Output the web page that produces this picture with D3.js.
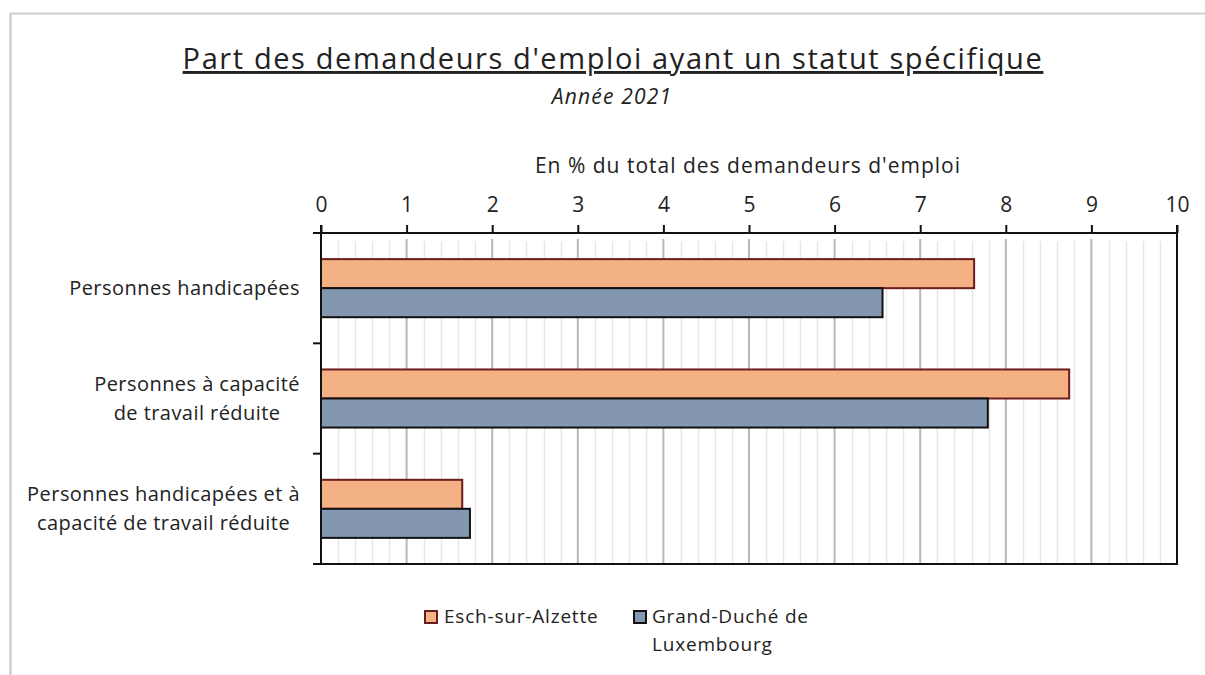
<!DOCTYPE html>
<html lang="fr">
<head>
<meta charset="utf-8">
<script src="https://d3js.org/d3.v7.min.js"></script>
<style>
  body { margin: 0; background: #fff; }
  svg text { font-family: "Open Sans", sans-serif; fill: #222; }
</style>
</head>
<body>
<div id="chart"></div>
<script>
// data
var categories = [
  ["Personnes handicapées"],
  ["Personnes à capacité", "de travail réduite"],
  ["Personnes handicapées et à", "capacité de travail réduite"]
];
var seriesNames = ["Esch-sur-Alzette", "Grand-Duché de Luxembourg"];
var eschValues = [7.63, 8.74, 1.65];
var luxValues = [6.56, 7.79, 1.74];
var tickValues = [0, 1, 2, 3, 4, 5, 6, 7, 8, 9, 10];

var width = 1205, height = 675;
var plotLeft = 321, plotRight = 1177, plotTop = 233, plotBottom = 564;
var fills = ["#f4b183", "#8497b0"];
var strokes = ["#6b1c1c", "#111111"];

var svg = d3.select("#chart").append("svg")
  .attr("width", width).attr("height", height);

// outer frame (top and left edges only visible)
svg.append("line").attr("x1", 10).attr("x2", width).attr("y1", 13.5).attr("y2", 13.5)
  .attr("stroke", "#cfcfcf").attr("stroke-width", 2);
svg.append("line").attr("x1", 10.5).attr("x2", 10.5).attr("y1", 13).attr("y2", height)
  .attr("stroke", "#cfcfcf").attr("stroke-width", 2.5);

// titles
svg.append("text")
  .attr("x", 613).attr("y", 69)
  .attr("text-anchor", "middle")
  .style("font-size", "29px")
  .style("letter-spacing", "1.6px")
  .style("text-decoration", "underline")
  .text("Part des demandeurs d'emploi ayant un statut spécifique");

svg.append("text")
  .attr("x", 612).attr("y", 104)
  .attr("text-anchor", "middle")
  .style("font-size", "21px")
  .style("letter-spacing", "1.2px")
  .style("font-style", "italic")
  .text("Année 2021");

svg.append("text")
  .attr("x", 748).attr("y", 173)
  .attr("text-anchor", "middle")
  .style("font-size", "21px")
  .style("letter-spacing", "1px")
  .text("En % du total des demandeurs d'emploi");

// scales
var x = d3.scaleLinear().domain([0, 10]).range([plotLeft, plotRight]);
var y = d3.scaleBand().domain(d3.range(categories.length)).range([plotTop, plotBottom]);
var sub = d3.scaleBand().domain([0, 1]).range([0, y.bandwidth()]).paddingOuter(0.9);

// grid
var minor = d3.range(0, 10.01, 0.2).filter(function(v) { return Math.abs(v - Math.round(v)) > 0.01; });
svg.append("g").selectAll("line").data(minor).enter().append("line")
  .attr("x1", function(d) { return Math.round(x(d)) + 0.5; })
  .attr("x2", function(d) { return Math.round(x(d)) + 0.5; })
  .attr("y1", plotTop + 8).attr("y2", plotBottom)
  .attr("stroke", "#e6e6e6").attr("stroke-width", 1.5);
svg.append("g").selectAll("line").data(tickValues.slice(1, -1)).enter().append("line")
  .attr("x1", function(d) { return x(d); })
  .attr("x2", function(d) { return x(d); })
  .attr("y1", plotTop + 6).attr("y2", plotBottom)
  .attr("stroke", "#b8b8b8").attr("stroke-width", 2);

// bars
var series = [eschValues, luxValues];
series.forEach(function(vals, s) {
  svg.append("g").selectAll("rect").data(vals).enter().append("rect")
    .attr("x", x(0))
    .attr("y", function(d, i) { return y(i) + sub(s); })
    .attr("width", function(d) { return x(d) - x(0); })
    .attr("height", sub.bandwidth())
    .attr("fill", fills[s])
    .attr("stroke", strokes[s])
    .attr("stroke-width", 2);
});

// top axis
var xAxis = d3.axisTop(x).tickValues(tickValues).tickSize(8).tickPadding(13);
var gx = svg.append("g").attr("transform", "translate(0," + plotTop + ")").call(xAxis);
gx.select(".domain").remove();
gx.selectAll(".tick line").attr("stroke", "#111").attr("stroke-width", 2);
gx.selectAll(".tick text")
  .style("font-size", "21px")
  .style("font-family", "'Open Sans', sans-serif")
  .attr("fill", "#222");

// plot border lines
svg.append("line").attr("x1", plotLeft - 8).attr("x2", plotRight + 1).attr("y1", plotTop).attr("y2", plotTop)
  .attr("stroke", "#111").attr("stroke-width", 2);
svg.append("line").attr("x1", plotLeft - 8).attr("x2", plotRight + 1).attr("y1", plotBottom).attr("y2", plotBottom)
  .attr("stroke", "#111").attr("stroke-width", 2);
svg.append("line").attr("x1", plotRight).attr("x2", plotRight).attr("y1", plotTop - 8).attr("y2", plotBottom)
  .attr("stroke", "#111").attr("stroke-width", 2);

// left axis with category ticks
var yTicks = d3.range(categories.length + 1).map(function(i) {
  return i < categories.length ? y(i) : plotBottom;
});
svg.append("line").attr("x1", plotLeft).attr("x2", plotLeft).attr("y1", plotTop - 8).attr("y2", plotBottom)
  .attr("stroke", "#111").attr("stroke-width", 2);
svg.append("g").selectAll("line").data(yTicks).enter().append("line")
  .attr("x1", plotLeft - 8).attr("x2", plotLeft)
  .attr("y1", function(d) { return d; }).attr("y2", function(d) { return d; })
  .attr("stroke", "#111").attr("stroke-width", 2);

// category labels: block right-aligned, lines centered
categories.forEach(function(lines, i) {
  var g = svg.append("g");
  var cy = y(i) + y.bandwidth() / 2;
  var lh = 29;
  var t = g.selectAll("text").data(lines).enter().append("text")
    .attr("text-anchor", "middle")
    .attr("y", function(d, j) { return cy + 7 + (j - (lines.length - 1) / 2) * lh; })
    .style("font-size", "20px")
    .style("letter-spacing", "0.45px")
    .text(function(d) { return d; });
  var maxW = 0;
  t.each(function() { maxW = Math.max(maxW, this.getComputedTextLength()); });
  t.attr("x", 300 - maxW / 2);
});

// legend
var legend = svg.append("g");
var legX = [425, 634];
series.forEach(function(vals, s) {
  legend.append("rect")
    .attr("x", legX[s]).attr("y", 611)
    .attr("width", 12).attr("height", 12)
    .attr("fill", fills[s]).attr("stroke", strokes[s]).attr("stroke-width", 2);
});
function legendText(tx, ty, str) {
  legend.append("text").attr("x", tx).attr("y", ty)
    .style("font-size", "19px").style("letter-spacing", "0.8px").text(str);
}
legendText(444, 623, seriesNames[0]);
legendText(652, 623, "Grand-Duché de");
legendText(652, 651, "Luxembourg");
</script>
</body>
</html>
